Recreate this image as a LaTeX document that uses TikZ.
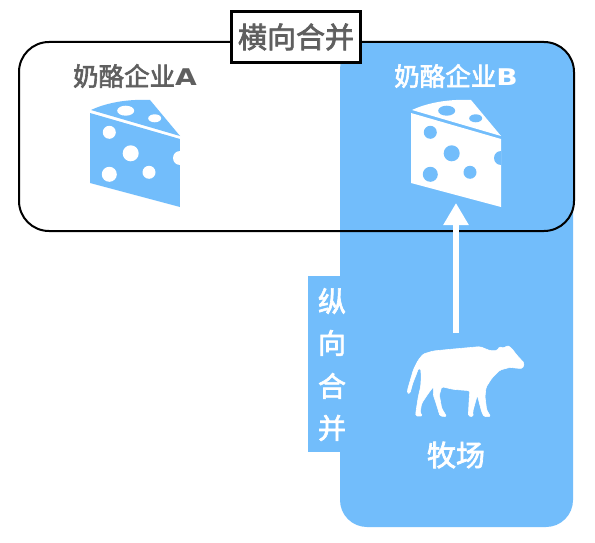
\documentclass[tikz,border=0pt]{standalone}
\usepackage{fontspec}
\setmainfont{Noto Sans CJK SC}
\newfontfamily\cjkmedium[FakeBold=2.4]{Noto Sans CJK SC}
\newfontfamily\latinbold[FakeStretch=1.22]{DejaVu Sans Bold}
\usetikzlibrary{arrows.meta}
\definecolor{cheeseblue}{HTML}{72BDFB}
\definecolor{labelgray}{HTML}{5F5F5F}
\tikzset{
	boxlabel/.style={text=labelgray, font=\cjkmedium\fontsize{29}{29}\selectfont, inner sep=0pt},
	firmlabel/.style={font=\cjkmedium\fontsize{25.5}{26}\selectfont, inner sep=0pt},
	mergeword/.style={text=white, font=\cjkmedium\fontsize{28}{28}\selectfont, inner sep=0pt},
}
% one cheese, left edge at x=0 of its scope
\newcommand{\drawcheese}[3]{
	\begin{scope}[xshift=#1]
		\fill[#2] (91,110) .. controls (108,102) and (130,99) .. (150,100) -- (180,136) -- cycle;
		\begin{scope}
			\clip (90,113) -- (180,139) -- (180,207) -- (90,183) -- cycle;
			\fill[#2] (90,113) -- (180,139) -- (180,207) -- (90,183) -- cycle;
			\fill[#3] (109.3,132.3) circle (6.5) (130.7,153.3) circle (8)
				(109.3,174.3) circle (7.5) (149,172.3) circle (6.5) (180,158) circle (7);
		\end{scope}
		\fill[#3] (125.7,110.7) ellipse (8.5 and 5);
		\fill[#3] (154.7,118.3) ellipse (6.5 and 4);
	\end{scope}
}
\begin{document}
\begin{tikzpicture}[x=1pt, y=-1pt]
	\useasboundingbox (0,0) rectangle (595,543);
	\fill[white] (0,0) rectangle (595,543);
	% vertical merger
	\fill[cheeseblue, rounded corners=27] (340,42) rectangle (573,527);
	\fill[cheeseblue] (308,276) rectangle (340,452);
	\node[mergeword] (wordA) at (332,301) {纵};
	\node[mergeword] (wordB) at (332,343) {向};
	\node[mergeword] (wordC) at (332,386) {合};
	\node[mergeword] (wordD) at (332,428) {并};
	% horizontal merger
	\draw[line width=2pt, rounded corners=30] (19,42) rectangle (574,231);
	\node[boxlabel, draw=black, line width=2.4pt, fill=white, minimum width=129, minimum height=51] (mergebox) at (296,37) {横向合并};
	\node[firmlabel, text=labelgray] (firmA) at (135,76) {奶酪企业{\latinbold\fontsize{23}{23}\selectfont A}};
	\node[firmlabel, text=white] (firmB) at (456,76) {奶酪企业{\latinbold\fontsize{23}{23}\selectfont B}};
	\drawcheese{0}{cheeseblue}{white}
	\drawcheese{321}{white}{cheeseblue}
	% cow, traced in zoomed pixels
	\begin{scope}[shift={(390,330)}, x=0.3333pt, y=-0.3333pt]
		\filldraw[white, line width=.6pt, rounded corners=1.5] (52,190) -- (53,178) -- (70,120) -- (85,90) -- (100,72) -- (130,63) -- (180,58) -- (270,50) -- (300,62) -- (322,62) -- (328,50) -- (342,55) -- (352,46) -- (365,55) -- (380,75) -- (403,100) -- (398,115) -- (385,115) -- (360,112) -- (330,120) -- (305,145) -- (288,172) -- (285,200) -- (290,240) -- (302,260) -- (282,260) -- (275,245) -- (262,195) -- (248,245) -- (250,260) -- (235,258) -- (238,200) -- (240,182) -- (190,178) -- (155,170) -- (148,195) -- (155,235) -- (170,260) -- (150,258) -- (140,225) -- (130,195) -- (130,170) -- (115,190) -- (95,220) -- (90,248) -- (98,258) -- (77,258) -- (78,245) -- (85,200) -- (92,170) -- (94,140) -- (92,115) -- (85,115) -- (80,130) -- (68,160) -- (60,190) -- cycle;
	\end{scope}
	\node[firmlabel, text=white, font=\cjkmedium\fontsize{29}{29}\selectfont] (farm) at (456,455) {牧场};
	\coordinate (cowtop) at (456,333);
	\coordinate (cheesefoot) at (456,203);
	\draw[white, line width=6pt, -{Triangle[length=22pt, width=24pt]}] (cowtop) -- (cheesefoot);
\end{tikzpicture}
\end{document}
